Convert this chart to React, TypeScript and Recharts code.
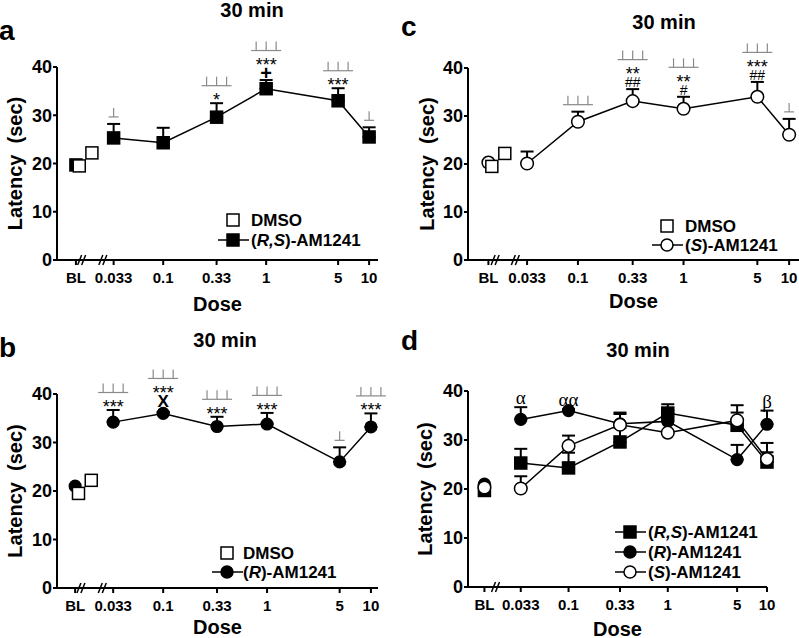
import React from "react";
import { LineChart, Line, XAxis, YAxis, ErrorBar, ReferenceDot } from "recharts";

// doses (mg/kg) and tick labels
const doses = [0.033, 0.1, 0.33, 1, 5, 10];
const BL_DOSE = 0.0142;
const doseTicks = [BL_DOSE, 0.033, 0.1, 0.33, 1, 5, 10];
const doseTickLabels = ["BL", "0.033", "0.1", "0.33", "1", "5", "10"];
const latencyTicks = [0, 10, 20, 30, 40];

// vehicle
const dmsoDoses = [0.0153, 0.0203];
const dmsoLatency = [19.5, 22.2];

// (R,S)-AM1241
const rsLatency = [25.3, 24.3, 29.6, 35.5, 33.0, 25.5];
const rsSem = [2.9, 3.1, 2.9, 1.8, 2.6, 2.0];
const rsBaseline = 19.7;
// (R)-AM1241
const rLatency = [34.2, 36.0, 33.3, 33.8, 26.0, 33.2];
const rSem = [2.5, 0.3, 2.0, 2.3, 3.0, 2.8];
const rBaseline = 21.0;
// (S)-AM1241
const sLatency = [20.1, 28.8, 33.1, 31.5, 34.0, 26.1];
const sSem = [2.5, 2.1, 2.5, 2.5, 3.1, 3.3];
const sBaseline = 20.3;

// significance marks per dose, from the error bar upwards
const rsMarks = [["⊥"], [], ["*", "⊥⊥⊥"], ["+", "***", "⊥⊥⊥"], ["***", "⊥⊥⊥"], ["⊥"]];
const rMarks = [["***", "⊥⊥⊥"], ["X", "***", "⊥⊥⊥"], ["***", "⊥⊥⊥"], ["***", "⊥⊥⊥"], ["⊥"], ["***", "⊥⊥⊥"]];
const sMarks = [[], ["⊥⊥⊥"], ["##", "**", "⊥⊥⊥"], ["#", "**", "⊥⊥⊥"], ["##", "***", "⊥⊥⊥"], ["⊥"]];
const compareMarks = [["α"], ["αα"], [], [], [], ["β"]];

const FONT = "'Liberation Sans', Arial, sans-serif";

const toPoints = (means: number[], sems: number[]) =>
  doses.map((d, i) => ({ dose: d, latency: means[i], sem: [0, sems[i]] }));
const dmsoPoints = dmsoDoses.map((d, i) => ({ dose: d, latency: dmsoLatency[i] }));

const square = (filled: boolean, size = 12) => (p: any) =>
  p.cx == null ? <g key={p.index} /> : (
    <rect key={p.index} x={p.cx - size / 2} y={p.cy - size / 2} width={size} height={size}
      fill={filled ? "#000" : "#fff"} stroke="#000" strokeWidth={1.5} />
  );
const circle = (filled: boolean, r = 6) => (p: any) =>
  p.cx == null ? <g key={p.index} /> : (
    <circle key={p.index} cx={p.cx} cy={p.cy} r={r} fill={filled ? "#000" : "#fff"} stroke="#000" strokeWidth={1.5} />
  );

function markStyle(m: string) {
  if (m.includes("*")) return { size: 18, weight: 400, dy: 10, family: FONT };
  if (m.includes("#")) return { size: 14, weight: 400, dy: 5, family: FONT };
  if (m === "+") return { size: 20, weight: 700, dy: 7, family: FONT };
  if (m === "X") return { size: 17, weight: 700, dy: 6, family: FONT };
  return { size: 19, weight: 400, dy: 4, family: "'Liberation Serif', 'Times New Roman', serif" };
}

function MarkStack({ cx, cy, marks }: { cx: number; cy: number; marks: string[] }) {
  let y = cy - (marks[0] === "X" ? 11 : 7);
  return (
    <g>
      {marks.map((m, i) => {
        const bracket = m[0] === "⊥";
        if (i > 0) y -= bracket ? 10.5 : 12;
        if (bracket) {
          const n = m.length;
          const half = (n - 1) * 5 + 5;
          return (
            <g key={i} stroke="#8a8a8a" strokeWidth={1.2}>
              <line x1={cx - half} x2={cx + half} y1={y} y2={y} />
              {Array.from(m).map((_, k) => {
                const tx = cx + (k - (n - 1) / 2) * 10;
                return <line key={k} x1={tx} x2={tx} y1={y} y2={y - 9} />;
              })}
            </g>
          );
        }
        const st = markStyle(m);
        return (
          <text key={i} x={cx} y={y + st.dy} textAnchor="middle" fontSize={st.size}
            fontWeight={st.weight} fontFamily={st.family} fill="#000">{m}</text>
        );
      })}
    </g>
  );
}

function BreakMark({ cx, cy }: { cx: number; cy: number }) {
  return (
    <g stroke="#000" strokeWidth={1.5}>
      <line x1={cx - 5} y1={cy + 5} x2={cx - 1} y2={cy - 5} />
      <line x1={cx - 1} y1={cy + 5} x2={cx + 3} y2={cy - 5} />
    </g>
  );
}

type SeriesCfg = {
  key: string;
  means: number[];
  sems: number[];
  baseline: number;
  dot: (p: any) => React.ReactElement;
  marks?: string[][];
};

type PanelCfg = {
  left: number;
  top: number;
  width: number;
  height: number;
  margin: { top: number; right: number; left: number; bottom: number };
  yAxisWidth: number;
  xAxisHeight: number;
  xDomain: [number, number];
  breaks: number[];
  yLabelX: number;
  doseLabelY: number;
  showDmso: boolean;
  series: SeriesCfg[];
};

function Panel({ cfg }: { cfg: PanelCfg }) {
  const axisStyle = { stroke: "#000", strokeWidth: 2 };
  return (
    <div style={{ position: "absolute", left: cfg.left, top: cfg.top }}>
      <LineChart width={cfg.width} height={cfg.height} margin={cfg.margin}>
        <XAxis
          dataKey="dose"
          type="number"
          scale="log"
          domain={cfg.xDomain}
          ticks={doseTicks}
          interval={0}
          tickFormatter={(v: number) => doseTickLabels[doseTicks.indexOf(v)] ?? String(v)}
          height={cfg.xAxisHeight}
          axisLine={axisStyle}
          tickLine={axisStyle}
          tickSize={5}
          tickMargin={7}
          tick={{ fill: "#000", fontSize: 15, fontWeight: 700, fontFamily: FONT }}
          label={{
            content: (p: any) => {
              const vb = p.viewBox || {};
              return (
                <text x={vb.x + vb.width / 2} y={vb.y + cfg.doseLabelY} textAnchor="middle"
                  fontSize={20} fontWeight={700} fontFamily={FONT} fill="#000">Dose</text>
              );
            },
          }}
        />
        <YAxis
          type="number"
          domain={[0, 40]}
          ticks={latencyTicks}
          interval={0}
          width={cfg.yAxisWidth}
          axisLine={axisStyle}
          tickLine={axisStyle}
          tickSize={4}
          tickMargin={1}
          tick={{ fill: "#000", fontSize: 18, fontWeight: 700, fontFamily: FONT }}
          label={{
            content: (p: any) => {
              const vb = p.viewBox || {};
              const x = vb.x + cfg.yLabelX;
              const y = vb.y + vb.height / 2;
              return (
                <text x={x} y={y} transform={`rotate(-90 ${x} ${y})`} textAnchor="middle"
                  dominantBaseline="central" fontSize={20} fontWeight={700} fontFamily={FONT} fill="#000">
                  {"Latency\u00a0 (sec)"}
                </text>
              );
            },
          }}
        />
        {cfg.breaks.map((b) => (
          <ReferenceDot key={`br${b}`} x={b} y={0} r={0} ifOverflow="visible"
            shape={(p: any) => <BreakMark cx={p.cx} cy={p.cy} />} />
        ))}
        {cfg.series.map((s) => (
          <Line key={`bl-${s.key}`} data={[{ dose: BL_DOSE, latency: s.baseline }]} dataKey="latency"
            stroke="none" dot={s.dot} activeDot={false} isAnimationActive={false} legendType="none" />
        ))}
        {cfg.showDmso && (
          <Line data={dmsoPoints} dataKey="latency" stroke="none" dot={square(false, 12)}
            activeDot={false} isAnimationActive={false} legendType="none" />
        )}
        {cfg.series.map((s) => (
          <Line key={s.key} data={toPoints(s.means, s.sems)} dataKey="latency" type="linear"
            stroke="#000" strokeWidth={1.5} dot={s.dot} activeDot={false} isAnimationActive={false}>
            <ErrorBar dataKey="sem" direction="y" width={6.5} stroke="#000" strokeWidth={2} />
          </Line>
        ))}
        {cfg.series.flatMap((s) =>
          (s.marks || []).map((m, i) =>
            m.length === 0 ? null : (
              <ReferenceDot key={`m-${s.key}-${i}`} x={doses[i]} y={s.means[i] + s.sems[i]} r={0}
                ifOverflow="visible" shape={(p: any) => <MarkStack cx={p.cx} cy={p.cy} marks={m} />} />
            )
          )
        )}
      </LineChart>
    </div>
  );
}

const rsSeries = (marks?: string[][]): SeriesCfg => ({
  key: "rs", means: rsLatency, sems: rsSem, baseline: rsBaseline, dot: square(true, 12), marks,
});
const rSeries = (marks?: string[][]): SeriesCfg => ({
  key: "r", means: rLatency, sems: rSem, baseline: rBaseline, dot: circle(true, 5.8), marks,
});
const sSeries = (marks?: string[][]): SeriesCfg => ({
  key: "s", means: sLatency, sems: sSem, baseline: sBaseline, dot: circle(false, 6.3), marks,
});

const panels: PanelCfg[] = [
  {
    left: 0, top: 0, width: 400, height: 320,
    margin: { top: 67, right: 22, left: 0, bottom: 0 },
    yAxisWidth: 57, xAxisHeight: 60, xDomain: [0.0093, 12.2], breaks: [0.0165, 0.0265],
    yLabelX: 15, doseLabelY: 51, showDmso: true, series: [rsSeries(rsMarks)],
  },
  {
    left: 400, top: 0, width: 399, height: 320,
    margin: { top: 68, right: 0, left: 0, bottom: 0 },
    yAxisWidth: 68, xAxisHeight: 60, xDomain: [0.0091, 12.4], breaks: [0.0168, 0.0261],
    yLabelX: 27, doseLabelY: 48, showDmso: true, series: [sSeries(sMarks)],
  },
  {
    left: 0, top: 320, width: 400, height: 318,
    margin: { top: 74, right: 22, left: 0, bottom: 0 },
    yAxisWidth: 57, xAxisHeight: 50, xDomain: [0.0095, 11.7], breaks: [0.0165, 0.0265],
    yLabelX: 15, doseLabelY: 46, showDmso: true, series: [rSeries(rMarks)],
  },
  {
    left: 400, top: 320, width: 399, height: 318,
    margin: { top: 71, right: 32, left: 0, bottom: 0 },
    yAxisWidth: 68, xAxisHeight: 51, xDomain: [0.0097, 10], breaks: [0.0188],
    yLabelX: 25, doseLabelY: 49, showDmso: false,
    series: [rSeries(compareMarks), rsSeries(), sSeries()],
  },
];

type LegendRow = { label: React.ReactNode; line: boolean; marker: "sq" | "sqf" | "cf" | "co" };

function LegendMarker({ x, y, kind }: { x: number; y: number; kind: LegendRow["marker"] }) {
  if (kind === "sq" || kind === "sqf")
    return <rect x={x - 6} y={y - 6} width={12} height={12} fill={kind === "sqf" ? "#000" : "#fff"} stroke="#000" strokeWidth={1.5} />;
  return <circle cx={x} cy={y} r={6} fill={kind === "cf" ? "#000" : "#fff"} stroke="#000" strokeWidth={1.5} />;
}

function LegendBlock({ x, y, rows, gap, textX }: { x: number; y: number; rows: LegendRow[]; gap: number; textX: number }) {
  return (
    <g>
      {rows.map((r, i) => {
        const cy = y + i * gap;
        return (
          <g key={i}>
            {r.line && <line x1={x - 15} x2={x + 16} y1={cy} y2={cy} stroke="#000" strokeWidth={1.5} />}
            <LegendMarker x={x} y={cy} kind={r.marker} />
            <text x={x + textX} y={cy + 6} fontSize={17} fontWeight={700} fontFamily={FONT} fill="#000">{r.label}</text>
          </g>
        );
      })}
    </g>
  );
}

const rsLabel = <>(<tspan fontStyle="italic">R,S</tspan>)-AM1241</>;
const rLabel = <>(<tspan fontStyle="italic">R</tspan>)-AM1241</>;
const sLabel = <>(<tspan fontStyle="italic">S</tspan>)-AM1241</>;

function Overlay() {
  const title = (x: number, y: number) => (
    <text x={x} y={y} textAnchor="middle" fontSize={20} fontWeight={700} fontFamily={FONT} fill="#000">30 min</text>
  );
  const letter = (x: number, y: number, t: string) => (
    <text x={x} y={y} fontSize={28} fontWeight={700} fontFamily={FONT} fill="#000">{t}</text>
  );
  return (
    <svg width={799} height={638} style={{ position: "absolute", left: 0, top: 0, pointerEvents: "none" }}>
      {letter(-1, 40, "a")}
      {letter(401, 36, "c")}
      {letter(-1, 357, "b")}
      {letter(401, 350, "d")}
      {title(252, 17)}
      {title(664, 29)}
      {title(225, 347)}
      {title(638, 357)}
      <LegendBlock x={233} y={220} gap={20} textX={18}
        rows={[{ label: "DMSO", line: false, marker: "sq" }, { label: rsLabel, line: true, marker: "sqf" }]} />
      <LegendBlock x={667} y={226} gap={19} textX={18}
        rows={[{ label: "DMSO", line: false, marker: "sq" }, { label: sLabel, line: true, marker: "co" }]} />
      <LegendBlock x={227} y={553} gap={19} textX={16}
        rows={[{ label: "DMSO", line: false, marker: "sq" }, { label: rLabel, line: true, marker: "cf" }]} />
      <LegendBlock x={630} y={532} gap={20} textX={18}
        rows={[
          { label: rsLabel, line: true, marker: "sqf" },
          { label: rLabel, line: true, marker: "cf" },
          { label: sLabel, line: true, marker: "co" },
        ]} />
    </svg>
  );
}

export default function App() {
  return (
    <div style={{ position: "absolute", left: 0, top: 0, width: 799, height: 638, background: "#fff", fontFamily: FONT }}>
      {panels.map((p, i) => (
        <Panel key={i} cfg={p} />
      ))}
      <Overlay />
    </div>
  );
}
